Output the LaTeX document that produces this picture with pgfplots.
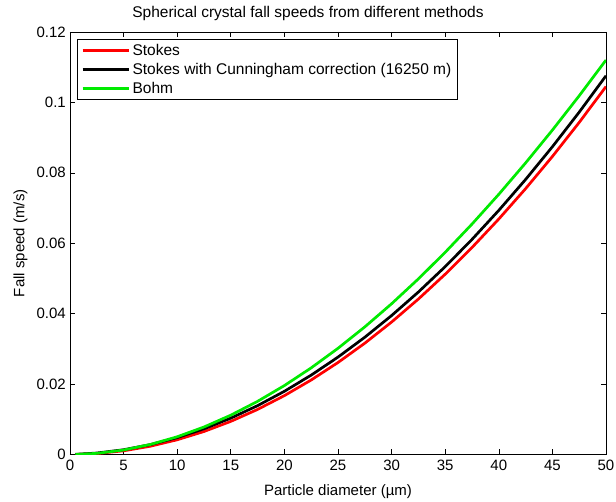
\documentclass[border=0pt]{standalone}
\usepackage{fontspec}
\setmainfont{Liberation Sans}
\usepackage{pgfplots}
\pgfplotsset{compat=1.18}

% Terminal fall speeds of spherical ice crystals, d in micrometres, v in m/s
\pgfplotstableread{
d     stokes     cunning    bohm
0.5   0.0000105  0.0000412  0.0000130
2.5   0.000261   0.000415   0.000321
5     0.001045   0.001352   0.001275
7.5   0.002351   0.002812   0.002850
10    0.004180   0.004795   0.005033
12.5  0.006531   0.007299   0.007810
15    0.009405   0.010327   0.011168
17.5  0.012801   0.013876   0.015096
20    0.016720   0.017949   0.019579
22.5  0.021161   0.022544   0.024606
25    0.026125   0.027661   0.030161
27.5  0.031611   0.033301   0.036236
30    0.037620   0.039464   0.042812
32.5  0.044151   0.046148   0.049882
35    0.051205   0.053356   0.057426
37.5  0.058781   0.061085   0.065441
40    0.066880   0.069338   0.073902
42.5  0.075501   0.078113   0.082809
45    0.084645   0.087410   0.092136
47.5  0.094311   0.097230   0.101884
50    0.104500   0.107573   0.112024
}\speeds

\newcommand\labfont{\fontsize{15}{18}\selectfont}
\newcommand\legfont{\fontsize{15.5}{18}\selectfont}

\begin{document}
\labfont
\begin{tikzpicture}[x=1pt,y=1pt]
\path[use as bounding box] (-70,-47.5) rectangle (546,454.5);
\begin{axis}[
  at={(0,0)}, anchor=south west,
  scale only axis, width=536pt, height=422.5pt,
  xmin=0, xmax=50, ymin=0, ymax=0.12,
  xtick={0,5,...,50},
  xticklabels={0,5,10,15,20,25,30,35,40,45,50},
  ytick={0,0.02,0.04,0.06,0.08,0.1,0.12},
  yticklabels={0,0.02,0.04,0.06,0.08,0.1,0.12},
  scaled y ticks=false,
  /pgf/number format/assume math mode=true,
  tick align=inside, tick pos=both,
  major tick length=5pt,
  tick style={black, line width=0.6pt},
  axis line style={line width=0.8pt},
  tick label style={font=\labfont},
  xticklabel style={yshift=0pt},
  yticklabel style={xshift=1pt},
  title={Spherical crystal fall speeds from different methods},
  title style={font=\legfont, at={(0.444,1)}, anchor=south, yshift=0pt},
  xlabel={Particle diameter (µm)},
  ylabel={Fall speed (m/s)},
  label style={font=\labfont},
  xlabel style={yshift=-4pt},
  ylabel style={yshift=-1pt},
  legend cell align=left,
  legend style={at={(0,1)}, anchor=north west, xshift=7pt, yshift=-7pt,
    draw=black, line width=0.8pt, inner xsep=4pt, inner ysep=2pt,
    row sep=0.5pt,
    font=\legfont,
    nodes={inner sep=2.5pt}},
  legend image code/.code={\draw[#1, line width=2.7pt] (0pt,0pt) -- (46pt,0pt);},
  every axis plot/.append style={line width=2.7pt, line join=round},
]
\addplot[color=red, no marks] table[x=d, y=stokes] {\speeds};
\addlegendentry{Stokes}
\addplot[color=black, no marks] table[x=d, y=cunning] {\speeds};
\addlegendentry{Stokes with Cunningham correction (16250 m)}
\addplot[color={rgb,255:red,0;green,235;blue,0}, no marks] table[x=d, y=bohm] {\speeds};
\addlegendentry{Bohm}
\end{axis}
\end{tikzpicture}
\end{document}
